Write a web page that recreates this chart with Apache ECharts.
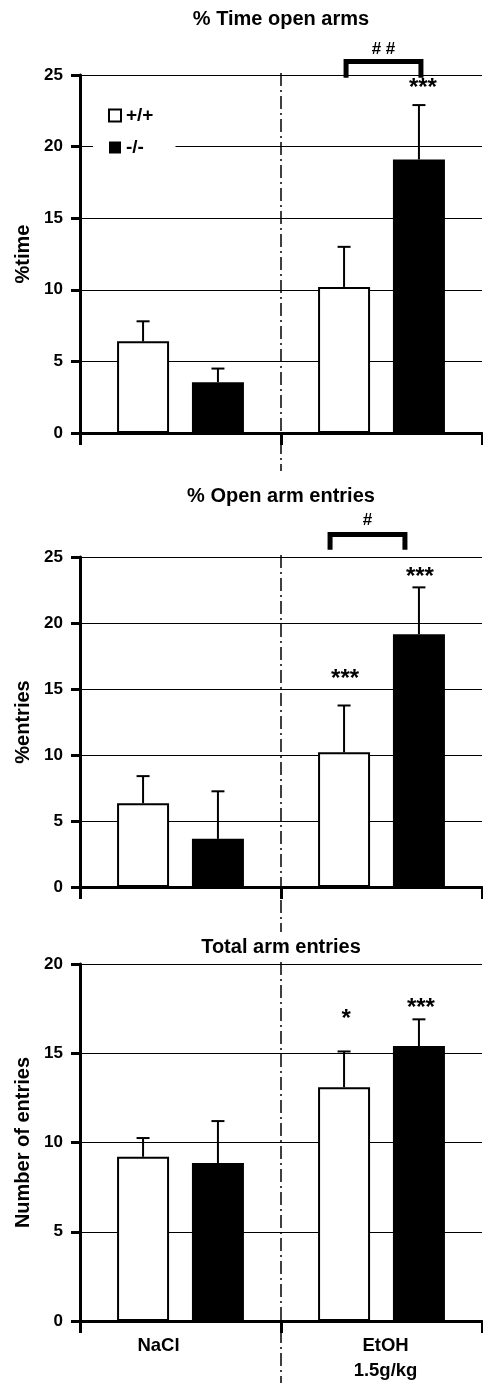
<!DOCTYPE html>
<html><head><meta charset="utf-8">
<script src="https://cdn.jsdelivr.net/npm/echarts@6/dist/echarts.min.js"></script>
<style>html,body{margin:0;padding:0;background:#fff}#c{width:483px;height:1383px}</style>
</head><body><div id="c"></div>
<script>
// ---------- data ----------
const categories = ['NaCl', 'EtOH\n1.5g/kg'];
const genotypes = ['+/+', '-/-'];
const panelTitles = ['% Time open arms', '% Open arm entries', 'Total arm entries'];
const yNames = ['%time', '%entries', 'Number of entries'];
const yMax = [25, 25, 20];
const yInterval = 5;

// % time in open arms
const timeWT = [6.4, 10.2];
const timeWTSem = [1.4, 2.8];
const timeKO = [3.55, 19.1];
const timeKOSem = [0.95, 3.8];

// % open arm entries
const entriesWT = [6.35, 10.2];
const entriesWTSem = [2.05, 3.55];
const entriesKO = [3.65, 19.15];
const entriesKOSem = [3.6, 3.55];

// total arm entries
const totalWT = [9.2, 13.1];
const totalWTSem = [1.05, 2.0];
const totalKO = [8.85, 15.4];
const totalKOSem = [2.35, 1.5];

// significance marks: [panel, category, genotype, text, y value]
const starLabels = [
  [0, 1, 1, '***', 24.4],
  [1, 1, 0, '***', 16.1],
  [1, 1, 1, '***', 23.8],
  [2, 1, 0, '*', 17.2],
  [2, 1, 1, '***', 17.8]
];
// genotype comparison brackets: [panel, category, text, bar y, leg end y, text y]
const brackets = [
  [0, 1, '# #', 25.95, 24.8, 26.8],
  [1, 1, '#', 26.7, 25.55, 27.8]
];

// ---------- layout / style ----------
const FONT = 'Liberation Sans, Arial, sans-serif';
const GRIDS = [{top: 75, height: 358}, {top: 557, height: 330}, {top: 964, height: 359}];
const GRID_LEFT = 80, GRID_WIDTH = 402;
const BAR_W = 52, BAR_GAP = 0.44;
const BAR_OFF = BAR_W * (1 + BAR_GAP) / 2;
const CAP = 6.5;
const TITLE_Y = [19, 496, 947];
const BRACKET_SHIFT = [2, -14];
const STAR_SHIFT = [4, 1, 1, 2, 2];
const DASH_EXT = [38, 45, 100];

const means = [[timeWT, timeKO], [entriesWT, entriesKO], [totalWT, totalKO]];
const sems = [[timeWTSem, timeKOSem], [entriesWTSem, entriesKOSem], [totalWTSem, totalKOSem]];

function errRender(sign) {
  return function (params, api) {
    const c = api.value(0), m = api.value(1), t = api.value(2);
    const p0 = api.coord([c, m]);
    const p1 = api.coord([c, t]);
    const x = p0[0] + sign * BAR_OFF;
    return {
      type: 'group',
      children: [
        {type: 'line', shape: {x1: x, y1: p0[1], x2: x, y2: p1[1]}, style: {stroke: '#000', lineWidth: 2}},
        {type: 'line', shape: {x1: x - CAP, y1: p1[1], x2: x + CAP, y2: p1[1]}, style: {stroke: '#000', lineWidth: 2}}
      ]
    };
  };
}

const grid = [], xAxis = [], yAxis = [], series = [];
for (let i = 0; i < 3; i++) {
  grid.push({left: GRID_LEFT, width: GRID_WIDTH, top: GRIDS[i].top, height: GRIDS[i].height});
  xAxis.push({
    type: 'category', gridIndex: i,
    data: categories.map((c, k) => i === 2 ? {value: c, textStyle: {padding: k === 0 ? [0, 44, 0, 0] : [0, 0, 0, 8]}} : c),
    boundaryGap: true,
    axisLine: {lineStyle: {color: '#000', width: 3}},
    axisTick: {show: true, length: 12, lineStyle: {color: '#000', width: 3}},
    axisLabel: {show: i === 2, color: '#000', fontFamily: FONT, fontWeight: 'bold', fontSize: 18.5, lineHeight: 25, margin: 12},
    splitLine: {show: false}
  });
  yAxis.push({
    type: 'value', gridIndex: i, min: 0, max: yMax[i], interval: yInterval,
    name: yNames[i], nameLocation: 'middle', nameGap: 46, nameRotate: 90,
    nameTextStyle: {color: '#000', fontFamily: FONT, fontWeight: 'bold', fontSize: 20},
    axisLine: {show: true, lineStyle: {color: '#000', width: 3}},
    axisTick: {show: true, length: 9, lineStyle: {color: '#000', width: 3}},
    axisLabel: {color: '#000', fontFamily: FONT, fontWeight: 'bold', fontSize: 17, margin: 17},
    splitLine: {show: true, lineStyle: {color: '#000', width: 1}}
  });
  for (let g = 0; g < 2; g++) {
    series.push({
      type: 'bar', name: genotypes[g], xAxisIndex: i, yAxisIndex: i,
      data: means[i][g], barWidth: BAR_W, barGap: (BAR_GAP * 100) + '%',
      itemStyle: g === 0 ? {color: '#fff', borderColor: '#000', borderWidth: 2} : {color: '#000'},
      z: 2, silent: true
    });
  }
  for (let g = 0; g < 2; g++) {
    series.push({
      type: 'custom', xAxisIndex: i, yAxisIndex: i, z: 3, silent: true,
      renderItem: errRender(g === 0 ? -1 : 1),
      encode: {x: 0, y: 1},
      data: means[i][g].map((m, k) => [k, m, m + sems[i][g][k]])
    });
  }
}

const option = {
  animation: false,
  backgroundColor: '#fff',
  grid, xAxis, yAxis, series,
  legend: {
    data: genotypes, orient: 'vertical', left: 93, top: 97,
    padding: [9, 22, 9, 15], itemWidth: 12, itemHeight: 12, itemGap: 13,
    icon: 'rect', backgroundColor: '#fff',
    textStyle: {color: '#000', fontFamily: FONT, fontWeight: 'bold', fontSize: 19},
    selectedMode: false
  }
};

const chart = echarts.init(document.getElementById('c'));
chart.setOption(option);

const px = (p, c, v) => chart.convertToPixel({gridIndex: p}, [c, v]);
const graphic = [];
for (let i = 0; i < 3; i++) {
  const c0 = px(i, 0, 0), c1 = px(i, 1, 0), top = px(i, 0, yMax[i]);
  graphic.push({
    type: 'text', z: 10,
    style: {x: (c0[0] + c1[0]) / 2, y: TITLE_Y[i], text: panelTitles[i], textAlign: 'center', textVerticalAlign: 'middle',
      fill: '#000', font: 'bold 20px ' + FONT}
  });
  const dx = (c0[0] + c1[0]) / 2;
  graphic.push({
    type: 'line', z: 10,
    shape: {x1: dx, y1: top[1] - 2, x2: dx, y2: c0[1] + DASH_EXT[i]},
    style: {stroke: '#000', lineWidth: 1.5, lineDash: [13, 4, 2, 4]}
  });
}
starLabels.forEach((s, k) => {
  const p = px(s[0], s[1], s[4]);
  graphic.push({
    type: 'text', z: 10,
    style: {x: p[0] + (s[2] === 0 ? -1 : 1) * BAR_OFF + STAR_SHIFT[k], y: p[1] + 5, text: s[3], textAlign: 'center', textVerticalAlign: 'middle',
      fill: '#000', font: 'bold 24px ' + FONT}
  });
});
brackets.forEach((b, k) => {
  const pb = px(b[0], b[1], b[3]), pl = px(b[0], b[1], b[4]), pt = px(b[0], b[1], b[5]);
  const xl = pb[0] - BAR_OFF + BRACKET_SHIFT[k], xr = pb[0] + BAR_OFF + BRACKET_SHIFT[k];
  graphic.push({
    type: 'polyline', z: 10,
    shape: {points: [[xl, pl[1]], [xl, pb[1]], [xr, pb[1]], [xr, pl[1]]]},
    style: {stroke: '#000', lineWidth: 5, fill: null, lineJoin: 'miter', lineCap: 'butt'}
  });
  graphic.push({
    type: 'text', z: 10,
    style: {x: (xl + xr) / 2, y: pt[1], text: b[2], textAlign: 'center', textVerticalAlign: 'middle',
      fill: '#000', font: 'bold 17px ' + FONT}
  });
});
chart.setOption({graphic});
</script>
</body></html>
